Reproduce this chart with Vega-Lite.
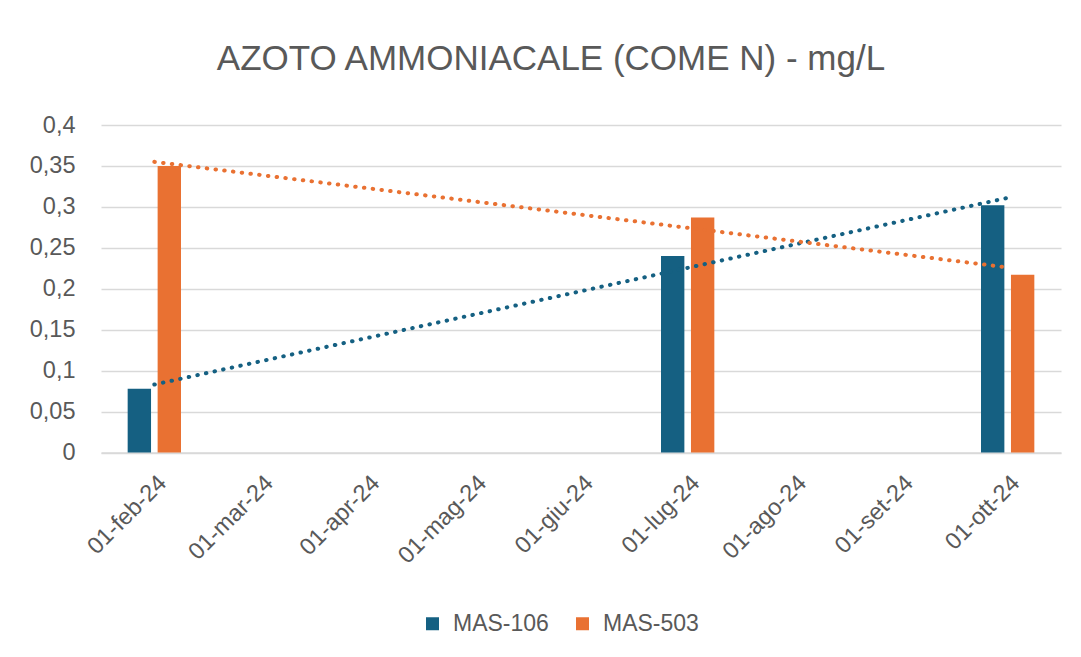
{
  "$schema": "https://vega.github.io/schema/vega-lite/v6.json",
  "width": 960,
  "height": 327.5,
  "autosize": "none",
  "padding": {"left": 101, "top": 125, "right": 20, "bottom": 204.5},
  "background": "white",
  "title": {
    "text": "AZOTO AMMONIACALE (COME N) - mg/L",
    "font": "Liberation Sans",
    "fontSize": 35,
    "fontWeight": "normal",
    "color": "#595959",
    "anchor": "middle",
    "dx": -30,
    "offset": 36
  },
  "datasets": {
    "bars": [
      {"data": "01-feb-24", "serie": "MAS-106", "valore": 0.078},
      {"data": "01-feb-24", "serie": "MAS-503", "valore": 0.35},
      {"data": "01-lug-24", "serie": "MAS-106", "valore": 0.24},
      {"data": "01-lug-24", "serie": "MAS-503", "valore": 0.287},
      {"data": "01-ott-24", "serie": "MAS-106", "valore": 0.302},
      {"data": "01-ott-24", "serie": "MAS-503", "valore": 0.217}
    ],
    "trend": [
      {"data": "01-feb-24", "serie": "MAS-106", "valore": 0.083},
      {"data": "01-ott-24", "serie": "MAS-106", "valore": 0.311},
      {"data": "01-feb-24", "serie": "MAS-503", "valore": 0.355},
      {"data": "01-ott-24", "serie": "MAS-503", "valore": 0.226}
    ]
  },
  "encoding": {
    "x": {
      "field": "data",
      "type": "nominal",
      "scale": {
        "type": "band",
        "domain": ["01-feb-24", "01-mar-24", "01-apr-24", "01-mag-24", "01-giu-24", "01-lug-24", "01-ago-24", "01-set-24", "01-ott-24"],
        "paddingInner": 0.5,
        "paddingOuter": 0.25
      },
      "axis": {
        "title": null,
        "labelAngle": -45,
        "labelFont": "Liberation Sans",
        "labelFontSize": 23.5,
        "labelColor": "#595959",
        "labelPadding": 18,
        "ticks": false,
        "domainColor": "#d9d9d9",
        "domainWidth": 1.5,
        "grid": false
      }
    },
    "y": {
      "field": "valore",
      "type": "quantitative",
      "scale": {"domain": [0, 0.4], "nice": false},
      "axis": {
        "title": null,
        "values": [0, 0.05, 0.1, 0.15, 0.2, 0.25, 0.3, 0.35, 0.4],
        "labelExpr": "replace(format(datum.value, '~g'), '.', ',')",
        "labelFont": "Liberation Sans",
        "labelFontSize": 23.5,
        "labelColor": "#595959",
        "labelPadding": 26,
        "ticks": false,
        "domain": false,
        "grid": true,
        "gridColor": "#d9d9d9",
        "gridWidth": 1.5
      }
    }
  },
  "layer": [
    {
      "data": {"name": "bars"},
      "mark": {"type": "bar"},
      "encoding": {
        "xOffset": {
          "field": "serie",
          "type": "nominal",
          "scale": {"domain": ["MAS-106", "MAS-503"], "paddingInner": 0.22, "paddingOuter": 0}
        },
        "color": {
          "field": "serie",
          "type": "nominal",
          "scale": {"domain": ["MAS-106", "MAS-503"], "range": ["#156082", "#E97132"]},
          "legend": {
            "title": null,
            "orient": "none",
            "direction": "horizontal",
            "legendX": 320,
            "legendY": 487,
            "symbolType": "square",
            "symbolSize": 169,
            "symbolStrokeWidth": 0,
            "labelFont": "Liberation Sans",
            "labelFontSize": 23,
            "labelColor": "#595959",
            "labelOffset": 9,
            "columnPadding": 22
          }
        }
      }
    },
    {
      "data": {"name": "trend"},
      "mark": {"type": "line", "strokeWidth": 4, "strokeCap": "round", "strokeDash": [0.5, 8.3]},
      "encoding": {
        "detail": {"field": "serie", "type": "nominal"},
        "stroke": {
          "field": "serie",
          "type": "nominal",
          "scale": {"domain": ["MAS-106", "MAS-503"], "range": ["#156082", "#E97132"]},
          "legend": null
        }
      }
    }
  ],
  "config": {
    "view": {"stroke": null}
  }
}
